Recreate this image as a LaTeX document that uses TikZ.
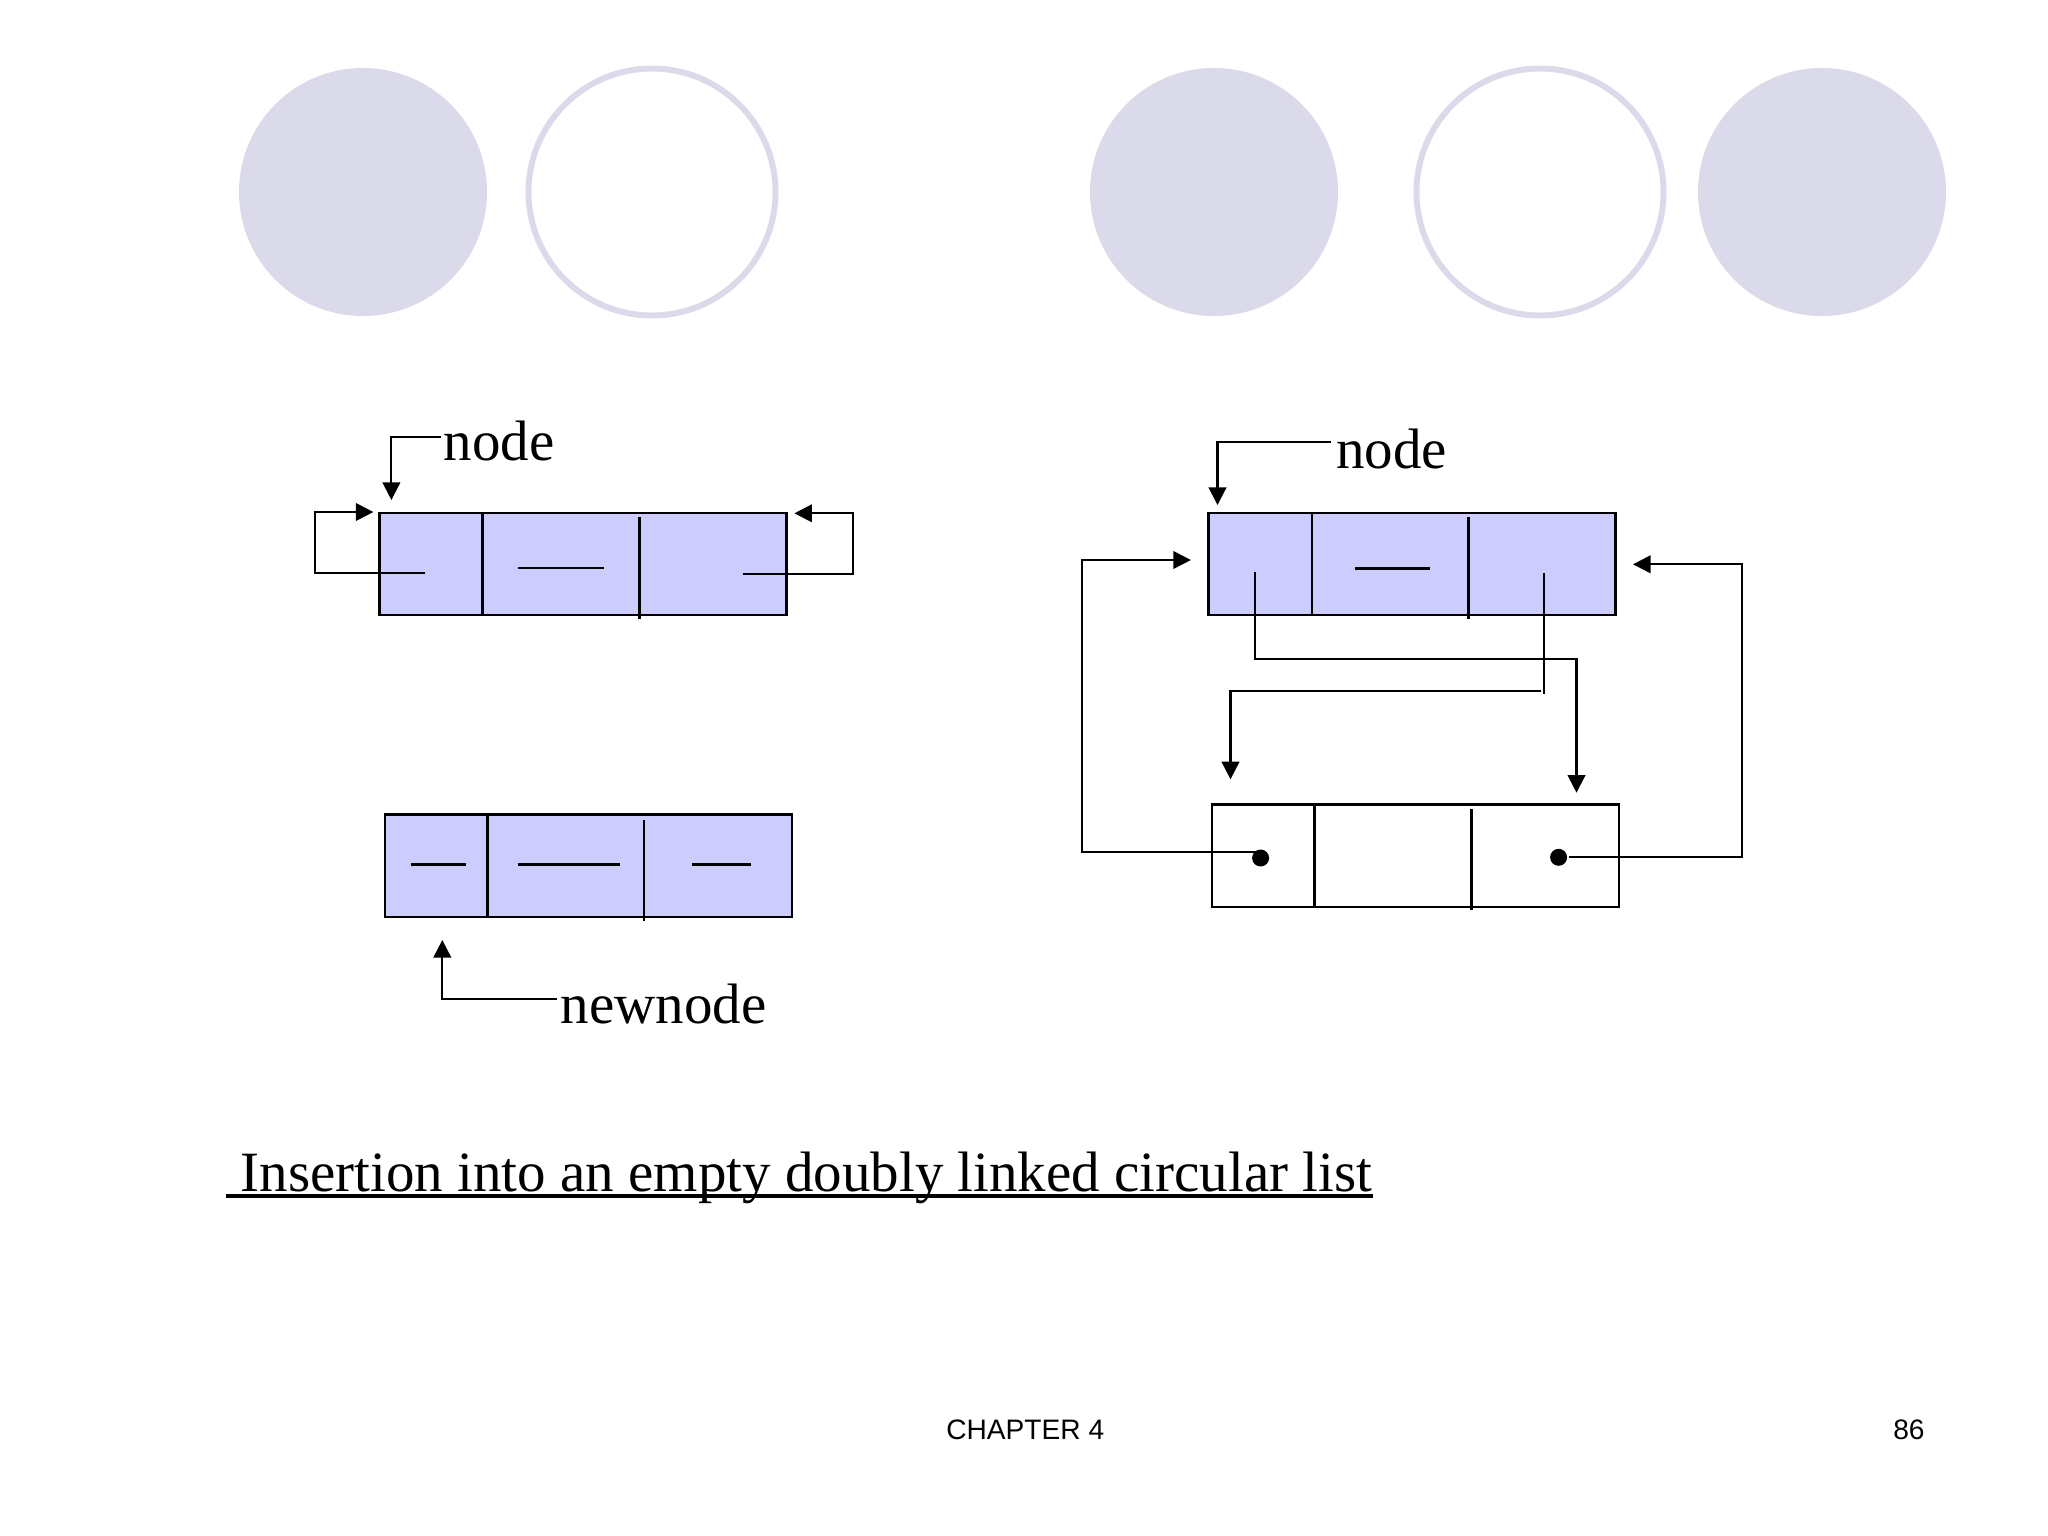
\documentclass[tikz,border=0pt]{standalone}
\usepackage{fontspec}
\setmainfont{Liberation Serif}
\setsansfont{Liberation Sans}
\usetikzlibrary{arrows.meta}
\definecolor{deco}{RGB}{218,218,234}
\definecolor{boxfill}{RGB}{204,204,255}
\begin{document}
\begin{tikzpicture}[x=0.01cm,y=-0.01cm,
  cellbox/.style={draw,rectangle,line width=0.75pt,inner sep=0,minimum width=4.07cm,minimum height=1.02cm},
  bluefill/.style={fill=boxfill},
  whitefill/.style={fill=white},
  divider/.style={line width=0.75pt},
  link/.style={line width=0.6pt},
  arr/.style={link,-{Triangle[length=5pt,width=5pt]}},
  lbl/.style={anchor=base west,inner sep=0,font=\fontsize{16.2}{19}\selectfont},
  foot/.style={anchor=base west,inner sep=0,font=\sffamily\fontsize{8}{10}\selectfont},
  ring/.style={draw=deco,line width=1.7pt},
  disc/.style={fill=deco}]
\useasboundingbox (0,0) rectangle (2048,1536);

% decorative circles
\fill[disc] (363,192) circle[radius=124];
\draw[ring] (652,192) circle[radius=123.5];
\fill[disc] (1214,192) circle[radius=124];
\draw[ring] (1540,192) circle[radius=123.5];
\fill[disc] (1822,192) circle[radius=124];

% ---------- left: node ----------
\node[cellbox,bluefill] (A) at (583,564) {};
\draw[divider] (482.5,513) -- (482.5,615);
\draw[divider] (639.4,517) -- (639.4,619);
\draw[link] (518,568) -- (604,568);
\coordinate (aL) at (424.7,572.7);
\coordinate (aLtip) at (373.4,512);
\coordinate (aR) at (742.7,573.7);
\coordinate (aRtip) at (794.4,513.3);
\draw[arr] (aL) -- (315,572.7) -- (315,512) -- (aLtip);
\draw[arr] (aR) -- (852.6,573.7) -- (852.6,513.3) -- (aRtip);

\node[lbl] (nodeL) at (443,460.7) {node};
\coordinate (nodeLs) at (441,437.3);
\coordinate (nodeLtip) at (391.4,500);
\draw[arr] (nodeLs) -| (nodeLtip);

% ---------- left: newnode ----------
\node[cellbox,bluefill,minimum height=1.025cm] (B) at (588.5,865.75) {};
\draw[divider] (487.7,814.5) -- (487.7,917);
\draw[divider] (644,820) -- (644,921);
\draw[link] (411,864.5) -- (466,864.5);
\draw[link] (518,864.5) -- (620,864.5);
\draw[link] (692,864.5) -- (751,864.5);

\node[lbl] (newnodeL) at (560,1023.3) {newnode};
\coordinate (newS) at (556.7,999.3);
\coordinate (newtip) at (442.3,940);
\draw[arr] (newS) -| (newtip);

% ---------- right: node ----------
\node[cellbox,bluefill] (C) at (1412,564) {};
\draw[divider] (1312,513) -- (1312,615);
\draw[divider] (1468.6,516.7) -- (1468.6,619.3);
\draw[link] (1355,568.5) -- (1430,568.5);

\node[lbl] (nodeR) at (1335.5,468.3) {node};
\coordinate (nodeRs) at (1331,442);
\coordinate (nodeRtip) at (1217.5,505);
\draw[arr] (nodeRs) -| (nodeRtip);

% ---------- right: new node (white) ----------
\node[cellbox,whitefill,minimum height=1.025cm] (D) at (1415.5,855.75) {};
\draw[divider] (1314.8,804.5) -- (1314.8,907);
\draw[divider] (1471.8,809) -- (1471.8,910);
\fill (1260.6,858) circle[radius=8.5];
\fill (1558.6,857.3) circle[radius=8.5];

% node -> newnode links
\coordinate (cL) at (1255,571.7);
\coordinate (cLtip) at (1576.5,792.7);
\coordinate (cR) at (1544.4,572.7);
\coordinate (cRtip) at (1230.5,779.3);
\draw[arr] (cL) |- (1576.5,658.7) -- (cLtip);
\draw[link] (cR) -- (1544.4,694);
\draw[arr] (1541,691) -- (1230.5,691) -- (cRtip);

% newnode -> node links
\coordinate (dL) at (1260.6,851.7);
\coordinate (dLtip) at (1190.9,560);
\coordinate (dR) at (1568.7,856.7);
\coordinate (dRtip) at (1633,564.3);
\draw[arr] (dL) -- (1081.6,851.7) |- (dLtip);
\draw[arr] (dR) -- (1741.8,856.7) |- (dRtip);

% ---------- caption ----------
\node[lbl] (title) at (226,1191) {\ Insertion into an empty doubly linked circular list};
\draw[line width=0.9pt] ([yshift=-0.05cm]title.base west) -- ([yshift=-0.05cm]title.base east);

% ---------- footer ----------
\node[foot] (chap) at (945.6,1439) {CHAPTER 4};
\node[foot] (page) at (1892.6,1439) {86};
\end{tikzpicture}
\end{document}
